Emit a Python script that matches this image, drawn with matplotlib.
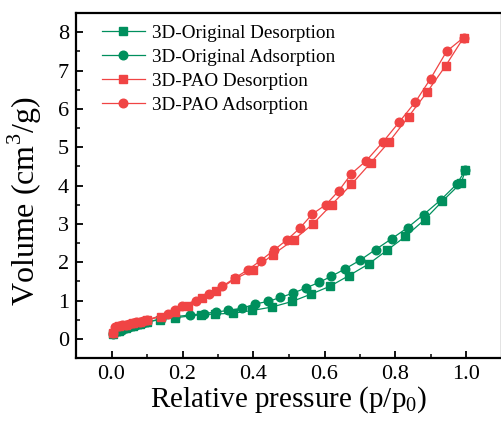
import matplotlib
matplotlib.use("Agg")
import matplotlib.pyplot as plt
from matplotlib.ticker import MultipleLocator

plt.rcParams['font.family'] = ['Liberation Serif', 'DejaVu Serif']
plt.rcParams['mathtext.fontset'] = 'custom'
plt.rcParams['mathtext.rm'] = 'Liberation Serif'

# 3D-Original sample
orig_ads_x = [0.005, 0.01, 0.02, 0.03, 0.04, 0.05, 0.06, 0.07, 0.08, 0.09, 0.10,
              0.14, 0.18, 0.22, 0.26, 0.294, 0.329, 0.369, 0.404, 0.441, 0.476,
              0.512, 0.547, 0.584, 0.619, 0.657, 0.70, 0.744, 0.789, 0.834,
              0.879, 0.927, 0.972, 0.997]
orig_ads_y = [0.13, 0.17, 0.21, 0.24, 0.27, 0.30, 0.33, 0.36, 0.39, 0.41, 0.44,
              0.52, 0.58, 0.62, 0.66, 0.70, 0.74, 0.80, 0.91, 0.975, 1.08,
              1.195, 1.325, 1.47, 1.63, 1.82, 2.05, 2.33, 2.61, 2.90,
              3.24, 3.62, 4.03, 4.40]
orig_des_x = [0.997, 0.985, 0.932, 0.882, 0.828, 0.776, 0.724, 0.669, 0.615,
              0.563, 0.509, 0.452, 0.397, 0.343, 0.291, 0.253, 0.179, 0.136,
              0.10, 0.08, 0.06, 0.04, 0.02, 0.005]
orig_des_y = [4.40, 4.07, 3.59, 3.11, 2.67, 2.31, 1.95, 1.65, 1.37,
              1.17, 0.975, 0.83, 0.74, 0.67, 0.645, 0.63, 0.55, 0.50,
              0.44, 0.39, 0.33, 0.27, 0.21, 0.13]

# 3D-PAO sample
pao_ads_x = [0.005, 0.01, 0.02, 0.03, 0.04, 0.05, 0.06, 0.07, 0.08, 0.09, 0.10,
             0.159, 0.18, 0.199, 0.237, 0.274, 0.312, 0.348, 0.384, 0.42,
             0.457, 0.495, 0.53, 0.565, 0.604, 0.64, 0.676, 0.718, 0.765,
             0.81, 0.856, 0.899, 0.944, 0.992]
pao_ads_y = [0.15, 0.31, 0.33, 0.35, 0.37, 0.39, 0.41, 0.43, 0.45, 0.47, 0.50,
             0.65, 0.74, 0.86, 1.00, 1.18, 1.37, 1.59, 1.80, 2.04,
             2.31, 2.59, 2.88, 3.25, 3.50, 3.86, 4.31, 4.65, 5.14,
             5.65, 6.18, 6.79, 7.50, 7.86]
pao_des_x = [0.992, 0.941, 0.89, 0.837, 0.782, 0.73, 0.676, 0.62, 0.568,
             0.514, 0.455, 0.399, 0.347, 0.295, 0.255, 0.216, 0.178, 0.139,
             0.10, 0.08, 0.06, 0.04, 0.02, 0.005]
pao_des_y = [7.86, 7.12, 6.45, 5.80, 5.14, 4.59, 4.03, 3.50, 3.00,
             2.59, 2.20, 1.80, 1.56, 1.24, 1.06, 0.86, 0.70, 0.57,
             0.50, 0.45, 0.41, 0.37, 0.33, 0.15]

green = '#008f5d'
red = '#f04444'

fig = plt.figure(figsize=(5.01, 4.21), dpi=100)
ax = fig.add_axes([76 / 501, 63 / 421, 426 / 501, 345 / 421])

ms = 6.2
lw = 0.9
ax.plot(orig_des_x, orig_des_y, color=green, marker='s', ms=ms - 0.6, lw=lw,
        label='3D-Original Desorption')
ax.plot(orig_ads_x, orig_ads_y, color=green, marker='o', ms=ms, lw=lw,
        label='3D-Original Adsorption')
ax.plot(pao_des_x, pao_des_y, color=red, marker='s', ms=ms - 0.6, lw=lw,
        label='3D-PAO Desorption')
ax.plot(pao_ads_x, pao_ads_y, color=red, marker='o', ms=ms, lw=lw,
        label='3D-PAO Adsorption')

ax.set_xlim(-0.1, 1.1)
ax.set_ylim(-0.5, 8.5)
ax.xaxis.set_minor_locator(MultipleLocator(0.1))
ax.yaxis.set_major_locator(MultipleLocator(1))
ax.yaxis.set_minor_locator(MultipleLocator(0.5))
ax.set_xticks([0.0, 0.2, 0.4, 0.6, 0.8, 1.0])
ax.set_xticklabels(['0.0', '0.2', '0.4', '0.6', '0.8', '1.0'])

for s in ax.spines.values():
    s.set_linewidth(1.6)
ax.tick_params(which='major', direction='in', length=5, width=1.3,
               labelsize=16, top=False, right=False, pad=5)
ax.tick_params(which='minor', direction='in', length=3, width=1.1,
               top=False, right=False)

ax.set_xlabel('Relative pressure (p/p$_0$)', fontsize=21, labelpad=0)
ax.set_ylabel('Volume (cm$^3$/g)', fontsize=23)
ax.yaxis.set_label_coords(-0.075, 0.455)

ax.legend(loc='upper left', bbox_to_anchor=(0.035, 1.0), frameon=False,
          fontsize=13.8, handlelength=2.2, labelspacing=0.34,
          handletextpad=0.4, borderaxespad=0.2)

fig.savefig('out.png', dpi=100)
